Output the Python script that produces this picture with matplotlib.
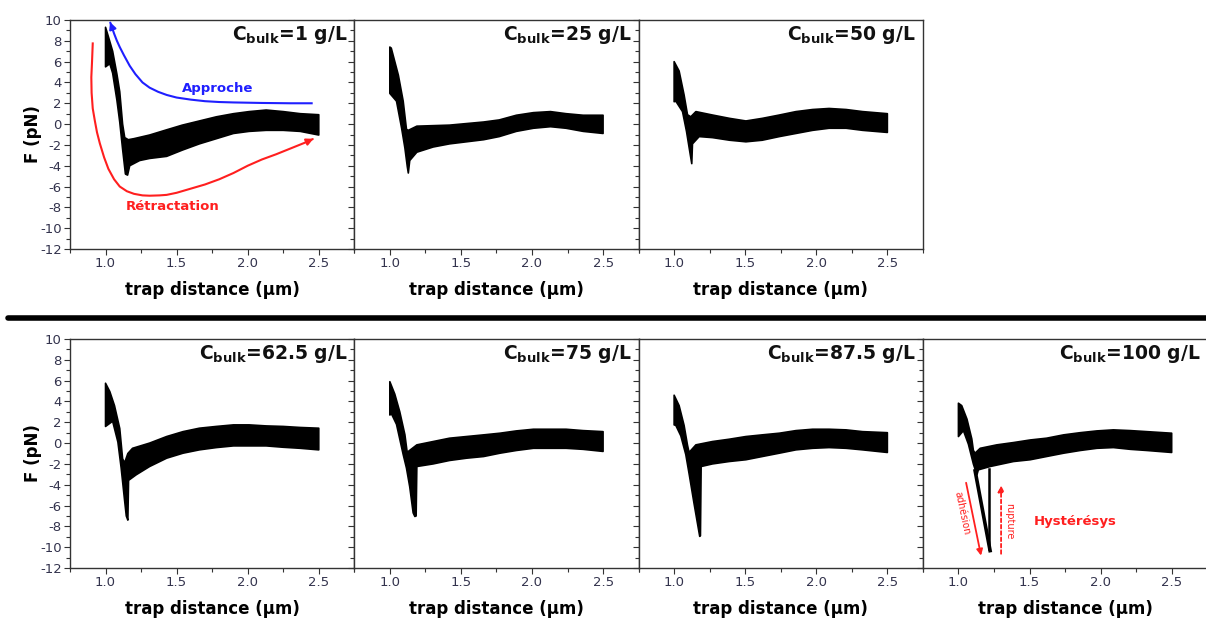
import numpy as np
import matplotlib.pyplot as plt
from matplotlib.lines import Line2D
from matplotlib.ticker import MultipleLocator

plt.rcParams['axes.unicode_minus'] = False

# concentrations (g/L), one panel each
c_bulk = ['1', '25', '50', '62.5', '75', '87.5', '100']

# upper edge of the force trace (pN) for each panel
up_x = [
    [1.0, 1.02, 1.05, 1.08, 1.10, 1.12, 1.135, 1.16, 1.2, 1.31, 1.43, 1.54, 1.66, 1.78, 1.9, 2.01, 2.13, 2.25, 2.37, 2.5],
    [1.0, 1.01, 1.06, 1.094, 1.117, 1.13, 1.19, 1.305, 1.42, 1.66, 1.77, 1.89, 2.01, 2.13, 2.24, 2.36, 2.5],
    [1.0, 1.035, 1.07, 1.094, 1.117, 1.153, 1.27, 1.39, 1.505, 1.62, 1.74, 1.857, 1.974, 2.09, 2.21, 2.326, 2.5],
    [1.0, 1.03, 1.063, 1.1, 1.12, 1.134, 1.157, 1.19, 1.31, 1.43, 1.545, 1.66, 1.78, 1.9, 2.01, 2.13, 2.25, 2.37, 2.5],
    [1.0, 1.035, 1.07, 1.106, 1.122, 1.13, 1.19, 1.305, 1.42, 1.54, 1.66, 1.775, 1.89, 2.01, 2.13, 2.24, 2.36, 2.5],
    [1.0, 1.035, 1.07, 1.094, 1.105, 1.153, 1.27, 1.387, 1.505, 1.62, 1.74, 1.857, 1.974, 2.09, 2.21, 2.326, 2.5],
    [1.0, 1.023, 1.06, 1.094, 1.105, 1.117, 1.153, 1.27, 1.387, 1.505, 1.62, 1.74, 1.857, 1.974, 2.09, 2.21, 2.326, 2.5],
]
up_y = [
    [9.3, 8.4, 7.0, 4.8, 3.1, 0.0, -1.3, -1.5, -1.4, -1.05, -0.55, -0.1, 0.3, 0.7, 1.0, 1.2, 1.35, 1.2, 1.0, 0.9],
    [7.4, 7.3, 4.7, 2.2, -0.5, -0.6, -0.2, -0.15, -0.1, 0.2, 0.4, 0.85, 1.1, 1.2, 1.0, 0.85, 0.85],
    [6.0, 5.1, 2.8, 0.9, 0.7, 1.2, 0.87, 0.55, 0.3, 0.55, 0.87, 1.2, 1.4, 1.5, 1.4, 1.2, 1.0],
    [5.75, 4.95, 3.6, 1.4, -1.5, -1.9, -1.0, -0.5, 0.0, 0.63, 1.1, 1.43, 1.6, 1.75, 1.75, 1.65, 1.6, 1.5, 1.43],
    [5.9, 4.7, 3.0, 0.8, -0.9, -0.8, -0.17, 0.15, 0.47, 0.63, 0.79, 0.95, 1.17, 1.33, 1.33, 1.33, 1.2, 1.1],
    [4.6, 3.6, 1.7, -0.2, -0.9, -0.17, 0.15, 0.37, 0.63, 0.79, 0.95, 1.2, 1.33, 1.33, 1.27, 1.1, 1.0],
    [3.83, 3.6, 2.3, 0.4, -0.7, -0.97, -0.5, -0.17, 0.05, 0.3, 0.47, 0.79, 1.0, 1.17, 1.27, 1.2, 1.1, 0.95],
]

# lower edge of the force trace
lo_x = [
    [1.0, 1.03, 1.05, 1.08, 1.10, 1.12, 1.14, 1.155, 1.17, 1.24, 1.31, 1.43, 1.54, 1.66, 1.78, 1.9, 2.01, 2.13, 2.25, 2.37, 2.5],
    [1.0, 1.047, 1.083, 1.106, 1.123, 1.13, 1.14, 1.19, 1.305, 1.42, 1.66, 1.77, 1.89, 2.01, 2.13, 2.24, 2.36, 2.5],
    [1.0, 1.012, 1.059, 1.087, 1.106, 1.124, 1.129, 1.176, 1.27, 1.39, 1.505, 1.62, 1.74, 1.857, 1.974, 2.09, 2.21, 2.326, 2.5],
    [1.0, 1.05, 1.087, 1.11, 1.134, 1.146, 1.157, 1.162, 1.17, 1.215, 1.31, 1.43, 1.545, 1.66, 1.78, 1.9, 2.01, 2.13, 2.25, 2.37, 2.5],
    [1.0, 1.012, 1.047, 1.094, 1.117, 1.14, 1.164, 1.176, 1.185, 1.19, 1.305, 1.42, 1.54, 1.66, 1.775, 1.89, 2.01, 2.13, 2.24, 2.36, 2.5],
    [1.0, 1.012, 1.047, 1.082, 1.106, 1.14, 1.164, 1.18, 1.185, 1.19, 1.27, 1.387, 1.505, 1.62, 1.74, 1.857, 1.974, 2.09, 2.21, 2.326, 2.5],
    [1.0, 1.035, 1.07, 1.105, 1.13, 1.14, 1.223, 1.387, 1.505, 1.62, 1.74, 1.857, 1.974, 2.09, 2.21, 2.326, 2.5],
]
lo_y = [
    [5.5, 5.8, 4.9, 2.3, 0.2, -2.4, -4.8, -4.9, -4.0, -3.5, -3.3, -3.1, -2.5, -1.9, -1.4, -0.9, -0.7, -0.6, -0.6, -0.7, -1.05],
    [2.95, 2.2, -0.4, -2.3, -4.1, -4.7, -3.5, -2.7, -2.2, -1.9, -1.5, -1.2, -0.7, -0.4, -0.25, -0.4, -0.7, -0.9],
    [2.15, 2.2, 1.2, -0.7, -2.3, -3.8, -1.9, -1.2, -1.3, -1.55, -1.7, -1.55, -1.2, -0.9, -0.6, -0.4, -0.4, -0.6, -0.8],
    [1.6, 2.1, 0.1, -2.4, -5.5, -7.0, -7.4, -3.5, -3.5, -3.05, -2.25, -1.45, -0.97, -0.65, -0.43, -0.27, -0.27, -0.27, -0.4, -0.5, -0.65],
    [2.7, 2.8, 1.8, -1.1, -2.4, -4.2, -6.7, -7.05, -7.0, -2.25, -2.0, -1.67, -1.45, -1.29, -0.97, -0.71, -0.5, -0.5, -0.5, -0.6, -0.8],
    [1.75, 1.7, 0.7, -1.1, -3.0, -5.8, -7.7, -8.96, -8.9, -2.25, -2.0, -1.77, -1.6, -1.29, -0.97, -0.65, -0.5, -0.43, -0.5, -0.65, -0.9],
    [0.63, 1.2, -0.1, -2.0, -3.05, -2.57, -2.25, -1.77, -1.6, -1.29, -0.97, -0.71, -0.5, -0.43, -0.6, -0.71, -0.9],
]

# adhesion spike of the last panel
spike_x = [1.115, 1.225, 1.215, 1.215]
spike_y = [-2.5, -10.5, -10.2, -2.5]

# sketched approach / retraction paths (first panel)
appr_x = [2.45, 2.3, 2.1, 1.9, 1.8, 1.7, 1.6, 1.5, 1.43, 1.37, 1.31, 1.26, 1.21, 1.17, 1.13, 1.1, 1.08, 1.06, 1.04]
appr_y = [2.0, 2.0, 2.03, 2.08, 2.12, 2.2, 2.35, 2.55, 2.8, 3.1, 3.5, 4.0, 4.8, 5.6, 6.6, 7.4, 8.0, 8.7, 9.5]
retr_x = [0.91, 0.905, 0.9, 0.902, 0.91, 0.925, 0.94, 0.96, 0.99, 1.02, 1.06, 1.1, 1.15, 1.2, 1.26, 1.31,
          1.38, 1.43, 1.5, 1.6, 1.7, 1.8, 1.9, 2.0, 2.1, 2.2, 2.3, 2.4, 2.44]
retr_y = [7.75, 6.0, 4.5, 3.0, 1.5, 0.3, -0.8, -1.86, -3.2, -4.3, -5.3, -6.0, -6.45, -6.7, -6.85, -6.88,
          -6.85, -6.8, -6.6, -6.2, -5.8, -5.3, -4.7, -4.0, -3.4, -2.9, -2.35, -1.8, -1.55]

blue = '#1f1fff'
red = '#ff1f1f'
tick_col = '#33334d'

W, H = 1206, 624
fig = plt.figure(figsize=(W / 100, H / 100), dpi=100)

pw = 284.3
rows = [(20, [0, 1, 2]), (339, [3, 4, 5, 6])]

for top, idx in rows:
    for col, i in enumerate(idx):
        left = 70 + col * pw
        ax = fig.add_axes([left / W, (H - top - 229) / H, pw / W, 229 / H])
        ax.set_xlim(0.75, 2.75)
        ax.set_ylim(-12, 10)
        px = np.r_[up_x[i], lo_x[i][::-1]]
        py = np.r_[up_y[i], lo_y[i][::-1]]
        ax.fill(px, py, facecolor='black', edgecolor='black', lw=1.2, joinstyle='round')
        if i == 6:
            ax.plot(spike_x[:2], spike_y[:2], color='black', lw=2.6, solid_capstyle='butt')
            ax.plot(spike_x[2:], spike_y[2:], color='black', lw=1.8)

        ax.xaxis.set_major_locator(MultipleLocator(0.5))
        ax.xaxis.set_minor_locator(MultipleLocator(0.25))
        ax.yaxis.set_major_locator(MultipleLocator(2))
        ax.yaxis.set_minor_locator(MultipleLocator(1))
        ax.set_xticks([1.0, 1.5, 2.0, 2.5])
        ax.tick_params(which='both', direction='out', top=False, right=False,
                       colors='#333333', labelcolor=tick_col, labelsize=9.5, pad=2)
        ax.tick_params(which='major', length=4, width=0.8)
        ax.tick_params(which='minor', length=3, width=0.8)
        for s in ax.spines.values():
            s.set_color('#333333')
            s.set_linewidth(1.0)
        if col == 0:
            ax.set_ylabel('F (pN)', fontsize=12, fontweight='bold', labelpad=-1.5)
        else:
            ax.tick_params(axis='y', labelleft=False)
        ax.set_xlabel('trap distance (µm)', fontsize=12, fontweight='bold', labelpad=8)
        ax.text(0.975, 0.935, r'C$_{\mathbf{bulk}}$=' + c_bulk[i] + ' g/L', transform=ax.transAxes,
                ha='right', va='center', fontsize=13.5, fontweight='bold', color='#111111')

        if i == 0:
            ax.plot(appr_x, appr_y, color=blue, lw=1.5)
            ax.annotate('', xy=(1.025, 10.05), xytext=(appr_x[-1], appr_y[-1]),
                        arrowprops=dict(arrowstyle='-|>', color=blue, lw=1.5, mutation_scale=10),
                        annotation_clip=False)
            ax.plot(retr_x, retr_y, color=red, lw=1.5)
            ax.annotate('', xy=(2.48, -1.3), xytext=(retr_x[-1], retr_y[-1]),
                        arrowprops=dict(arrowstyle='-|>', color=red, lw=1.5, mutation_scale=10))
            ax.text(1.79, 3.4, 'Approche', color=blue, fontsize=9.5, fontweight='bold',
                    ha='center', va='center')
            ax.text(1.47, -7.95, 'Rétractation', color=red, fontsize=9.5, fontweight='bold',
                    ha='center', va='center')
        if i == 6:
            ax.annotate('', xy=(1.163, -11.07), xytext=(1.05, -3.55),
                        arrowprops=dict(arrowstyle='-|>', color=red, lw=1.3, mutation_scale=9))
            ax.annotate('', xy=(1.30, -3.8), xytext=(1.30, -10.9),
                        arrowprops=dict(arrowstyle='-|>', color=red, lw=1.3, ls=(0, (2, 1.5)),
                                        mutation_scale=9))
            ax.text(1.024, -6.75, 'adhésion', color=red, fontsize=7, rotation=-78,
                    ha='center', va='center')
            ax.text(1.358, -7.55, 'rupture', color=red, fontsize=7, rotation=-90,
                    ha='center', va='center')
            ax.text(1.82, -7.5, 'Hystérésys', color=red, fontsize=9.5, fontweight='bold',
                    ha='center', va='center')

# thick separator between the two rows
fig.add_artist(Line2D([8 / W, 1.0], [(H - 318) / H] * 2, color='black', lw=4,
                      solid_capstyle='round'))

fig.savefig('out.png', dpi=100)
